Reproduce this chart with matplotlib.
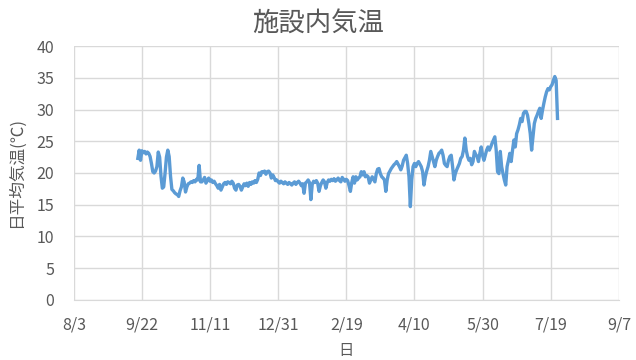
import matplotlib
matplotlib.use('Agg')
import matplotlib.pyplot as plt
import pandas as pd

plt.rcParams['font.family'] = ['Noto Sans CJK JP', 'DejaVu Sans']

# daily mean temperature inside the facility, from 2018-09-19
start_date = '2018-09-19'
temps = [
    22.3, 23.6, 22.0, 23.5, 23.2, 23.4, 23.0, 23.3, 23.1, 22.6,
    21.5, 20.2, 20.0, 20.3, 21.0, 23.3, 22.5, 19.5, 17.6, 17.8,
    20.0, 22.5, 23.6, 22.6, 19.5, 17.4, 17.2, 16.9, 16.7, 16.6,
    16.3, 17.2, 17.8, 19.2, 18.6, 17.0, 17.8, 18.3, 18.4, 18.6,
    18.5, 18.8, 18.6, 19.0, 18.9, 21.2, 18.6, 18.6, 18.9, 19.3,
    18.4, 18.8, 19.2, 18.7, 18.9, 18.5, 18.7, 18.3, 18.0, 17.6,
    18.2, 17.3, 17.8, 18.3, 18.5, 18.2, 18.6, 18.5, 18.3, 18.7,
    18.4, 17.6, 17.3, 18.1, 18.2, 17.9, 17.3, 17.8, 18.3, 18.0,
    18.4, 17.9, 18.5, 18.2, 18.6, 18.4, 18.8, 18.5, 19.0, 20.0,
    19.6, 20.2, 20.1, 20.3, 19.8, 20.2, 20.3, 20.0, 19.2, 19.7,
    19.3, 18.8, 18.9, 18.6, 18.4, 18.7, 18.5, 18.3, 18.6, 18.4,
    18.2, 18.5, 18.3, 18.1, 18.4, 18.6, 18.2, 18.5, 18.7, 18.4,
    18.0, 18.3, 16.8, 18.4, 18.6, 18.9, 18.5, 15.8, 18.2, 18.7,
    18.5, 18.8, 18.4, 17.1, 18.0, 18.5, 18.9, 18.6, 17.6, 18.5,
    18.9, 18.7, 19.0, 18.8, 19.1, 18.7, 18.9, 19.2, 18.8, 18.6,
    19.3, 19.0, 18.7, 19.0, 18.8, 18.0, 17.1, 18.5, 19.4, 18.4,
    19.4, 18.9, 19.2, 19.4, 20.2, 19.7, 20.2, 19.4, 19.6, 19.4,
    18.4, 18.9, 19.4, 19.0, 18.6, 19.9, 20.6, 20.7, 19.9, 19.4,
    19.2, 18.9, 17.1, 18.9, 19.9, 20.3, 20.7, 21.0, 21.3, 21.5,
    21.8, 21.4, 21.0, 20.5, 21.1, 22.0, 22.4, 22.8, 21.5, 19.4,
    14.7, 18.9, 21.0, 21.5, 21.0, 21.5, 21.8, 21.4, 21.0, 20.2,
    18.1, 19.4, 20.3, 21.0, 22.0, 23.4, 22.6, 21.8, 21.0, 22.0,
    22.6, 23.1, 23.3, 23.6, 22.8, 21.5, 21.2, 21.0, 22.0, 22.6,
    22.8, 21.0, 18.9, 19.9, 20.5, 21.0, 21.5, 22.3, 22.6, 23.6,
    25.5, 23.6, 22.6, 22.0, 22.3, 21.3, 21.8, 23.4, 22.9, 22.6,
    21.8, 23.1, 24.1, 22.8, 22.0, 22.8, 23.6, 24.1, 23.6, 24.1,
    24.7, 25.2, 25.7, 23.6, 20.2, 19.9, 23.4, 21.0, 19.9, 18.9,
    18.1, 21.0, 22.0, 23.1, 21.8, 23.6, 25.2, 24.1, 26.2, 26.8,
    27.6, 28.6, 28.1, 29.4, 29.7, 29.7, 29.1, 27.8, 26.2, 23.6,
    25.7, 27.8, 28.6, 29.1, 29.7, 30.2, 28.6, 29.9, 31.0, 32.0,
    32.8, 33.3, 33.1, 33.6, 33.9, 34.6, 35.2, 34.6, 28.6,
]
dates = pd.date_range(start_date, periods=len(temps), freq='D')

tick_dates = pd.date_range('2018-08-03', periods=9, freq='50D')
tick_labels = ['8/3', '9/22', '11/11', '12/31', '2/19', '4/10', '5/30', '7/19', '9/7']

grey = '#595959'

fig = plt.figure(figsize=(6.36, 3.6), dpi=100)
ax = fig.add_axes([0.116, 0.167, 0.857, 0.705])
ax.plot(dates, temps, color='#5B9BD5', linewidth=2.4)

ax.set_xlim(tick_dates[0], tick_dates[-1])
ax.set_ylim(0, 40)
ax.set_yticks(range(0, 41, 5))
ax.set_xticks(tick_dates)
ax.set_xticklabels(tick_labels)
ax.grid(True, color='#d9d9d9', linewidth=1)
ax.set_axisbelow(True)
for s in ['top', 'right', 'left']:
    ax.spines[s].set_visible(False)
ax.spines['bottom'].set_color('#d9d9d9')
ax.tick_params(length=0, labelsize=11.5, colors=grey)
ax.tick_params(axis='x', pad=12)
ax.tick_params(axis='y', pad=14)

fig.text(0.5, 0.935, '施設内気温', ha='center', va='center', fontsize=19, color=grey)
fig.text(0.544, 0.027, '日', ha='center', va='center', fontsize=11, color=grey)
ax.set_ylabel('日平均気温(℃)', fontsize=12, color=grey, labelpad=8)

plt.savefig('out.png', dpi=100)
